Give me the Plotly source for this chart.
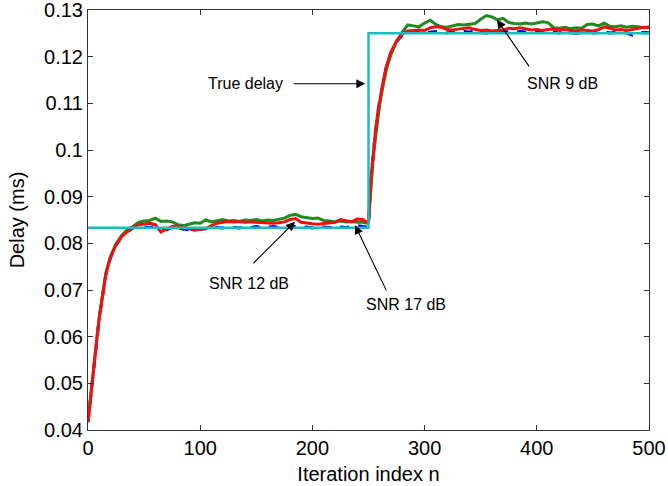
import plotly.graph_objects as go

# Iteration index (shared by all series)
n = [0, 2, 4, 6, 8, 10, 13, 16, 20, 25, 30, 35,
     40, 45, 50, 55, 60, 65, 70, 75, 80, 85,
     90, 95, 100, 105, 110, 115, 120, 125, 130, 135,
     140, 145, 150, 155, 160, 165, 170, 175, 180, 185,
     190, 195, 200, 205, 210, 215, 220, 225, 230, 235,
     240, 245, 248,
     250, 252, 254, 256, 258, 260, 263, 266, 270, 275, 280, 285,
     290, 295, 300, 305, 310, 315, 320, 325, 330, 335,
     340, 345, 350, 355, 360, 365, 370, 375, 380, 385,
     390, 395, 400, 405, 410, 415, 420, 425, 430, 435,
     440, 445, 450, 455, 460, 465, 470, 475, 480, 485,
     490, 495, 500]

snr17_blue = [0.0417, 0.0464, 0.0509, 0.0552, 0.0597, 0.0639, 0.0689, 0.0734, 0.0769, 0.0796, 0.0814, 0.0825,
              0.0833, 0.0836, 0.0835, 0.0834, 0.0836, 0.0831, 0.0829, 0.0833, 0.0832, 0.0830,
              0.0829, 0.0831, 0.0830, 0.0832, 0.0833, 0.0834, 0.0833, 0.0835, 0.0834, 0.0833,
              0.0835, 0.0834, 0.0836, 0.0834, 0.0835, 0.0836, 0.0834, 0.0835, 0.0837, 0.0836,
              0.0834, 0.0835, 0.0833, 0.0834, 0.0835, 0.0834, 0.0833, 0.0835, 0.0834, 0.0836,
              0.0838, 0.0836, 0.0835,
              0.0836, 0.0930, 0.0987, 0.1034, 0.1074, 0.1107, 0.1145, 0.1179, 0.1209, 0.1232, 0.1246, 0.1252,
              0.1252, 0.1253, 0.1251, 0.1252, 0.1254, 0.1252, 0.1251, 0.1253, 0.1252, 0.1254,
              0.1253, 0.1255, 0.1252, 0.1251, 0.1253, 0.1252, 0.1254, 0.1253, 0.1252, 0.1254,
              0.1253, 0.1252, 0.1255, 0.1256, 0.1254, 0.1252, 0.1251, 0.1253, 0.1252, 0.1250,
              0.1252, 0.1253, 0.1251, 0.1252, 0.1253, 0.1251, 0.1252, 0.1253, 0.1251, 0.1246,
              0.1250, 0.1252, 0.1251]

snr9_green = [0.0417, 0.0465, 0.0511, 0.0555, 0.0599, 0.0641, 0.0692, 0.0737, 0.0772, 0.0799, 0.0817, 0.0829,
              0.0836, 0.0845, 0.0848, 0.0849, 0.0854, 0.0847, 0.0848, 0.0846, 0.0840, 0.0838,
              0.0841, 0.0844, 0.0843, 0.0850, 0.0846, 0.0848, 0.0851, 0.0848, 0.0849, 0.0847,
              0.0850, 0.0849, 0.0851, 0.0848, 0.0850, 0.0849, 0.0851, 0.0854, 0.0860, 0.0862,
              0.0857, 0.0855, 0.0853, 0.0854, 0.0849, 0.0848, 0.0846, 0.0848, 0.0846, 0.0847,
              0.0845, 0.0845, 0.0843,
              0.0845, 0.0920, 0.0975, 0.1022, 0.1064, 0.1098, 0.1138, 0.1173, 0.1205, 0.1232, 0.1252, 0.1268,
              0.1266, 0.1264, 0.1272, 0.1278, 0.1269, 0.1264, 0.1263, 0.1266, 0.1269, 0.1268,
              0.1270, 0.1271, 0.1280, 0.1288, 0.1285, 0.1279, 0.1282, 0.1273, 0.1271, 0.1270,
              0.1272, 0.1270, 0.1272, 0.1275, 0.1273, 0.1262, 0.1261, 0.1263, 0.1260, 0.1262,
              0.1261, 0.1269, 0.1270, 0.1266, 0.1272, 0.1265, 0.1264, 0.1266, 0.1263, 0.1265,
              0.1264, 0.1262, 0.1264]

snr12_red = [0.0417, 0.0465, 0.0510, 0.0553, 0.0598, 0.0640, 0.0690, 0.0735, 0.0770, 0.0797, 0.0815, 0.0826,
             0.0835, 0.0840, 0.0842, 0.0843, 0.0840, 0.0824, 0.0831, 0.0836, 0.0837, 0.0835,
             0.0831, 0.0828, 0.0830, 0.0831, 0.0838, 0.0843, 0.0845, 0.0847, 0.0846, 0.0847,
             0.0845, 0.0846, 0.0845, 0.0844, 0.0843, 0.0843, 0.0844, 0.0846, 0.0851, 0.0853,
             0.0845, 0.0843, 0.0842, 0.0841, 0.0842, 0.0843, 0.0845, 0.0851, 0.0848, 0.0846,
             0.0852, 0.0851, 0.0846,
             0.0846, 0.0935, 0.0990, 0.1036, 0.1076, 0.1108, 0.1146, 0.1180, 0.1210, 0.1234, 0.1248, 0.1255,
             0.1256, 0.1257, 0.1256, 0.1262, 0.1264, 0.1263, 0.1258, 0.1257, 0.1259, 0.1261,
             0.1262, 0.1258, 0.1256, 0.1257, 0.1255, 0.1256, 0.1257, 0.1261, 0.1260, 0.1262,
             0.1260, 0.1257, 0.1258, 0.1256, 0.1258, 0.1259, 0.1257, 0.1258, 0.1256, 0.1255,
             0.1257, 0.1256, 0.1255, 0.1258, 0.1264, 0.1261, 0.1257, 0.1258, 0.1256, 0.1258,
             0.1260, 0.1263, 0.1262]

true_n = [0, 250, 250, 500]
true_delay = [0.08333, 0.08333, 0.125, 0.125]

y_ticks = [0.04, 0.05, 0.06, 0.07, 0.08, 0.09, 0.1, 0.11, 0.12, 0.13]
y_ticktext = ["0.04", "0.05", "0.06", "0.07", "0.08", "0.09", "0.1", "0.11", "0.12", "0.13"]
x_ticks = [0, 100, 200, 300, 400, 500]

FONT = "Liberation Sans, Arial, sans-serif"

fig = go.Figure()
fig.add_trace(go.Scatter(x=n, y=snr17_blue, mode="lines", name="SNR 17 dB",
                         line=dict(color="#0000ff", width=3, dash="dash")))
fig.add_trace(go.Scatter(x=n, y=snr9_green, mode="lines", name="SNR 9 dB",
                         line=dict(color="#1f8a1f", width=3)))
fig.add_trace(go.Scatter(x=n, y=snr12_red, mode="lines", name="SNR 12 dB",
                         line=dict(color="#f01010", width=3)))
fig.add_trace(go.Scatter(x=true_n, y=true_delay, mode="lines", name="True delay",
                         line=dict(color="#1cbcbc", width=2.5)))

# arrows: (tip_x, tip_y, tail_x, tail_y)
arrows = [
    (247, 0.1142, 182, 0.1142),
    (364.5, 0.1279, 394, 0.1176),
    (184.5, 0.0846, 146, 0.0754),
    (238, 0.0839, 266.5, 0.0696),
]
for tx, ty, ax_, ay_ in arrows:
    fig.add_annotation(x=tx, y=ty, ax=ax_, ay=ay_, xref="x", yref="y", axref="x", ayref="y",
                       text="", showarrow=True, arrowhead=2, arrowsize=1.6, arrowwidth=1.1,
                       arrowcolor="black")

labels = [
    ("True delay", 140, 0.1143),
    ("SNR 9 dB", 423, 0.1143),
    ("SNR 12 dB", 143.5, 0.0715),
    ("SNR 17 dB", 283.5, 0.0668),
]
for txt, lx, ly in labels:
    fig.add_annotation(x=lx, y=ly, xref="x", yref="y", text=txt, showarrow=False,
                       font=dict(family=FONT, size=16, color="black"))

fig.update_layout(
    width=668, height=486,
    margin=dict(l=88, r=19, t=10, b=56, autoexpand=False),
    paper_bgcolor="white", plot_bgcolor="white",
    showlegend=False,
    font=dict(family=FONT, color="black"),
)
fig.update_xaxes(range=[0, 500], tickvals=x_ticks, ticks="inside", ticklen=5, tickcolor="#333",
                 showline=True, linecolor="#333", linewidth=1, mirror="ticks",
                 showgrid=False, zeroline=False, tickfont=dict(size=20), automargin=False,
                 ticklabeloverflow="allow",
                 title=dict(text="Iteration index n", font=dict(size=20), standoff=8))
fig.update_yaxes(range=[0.04, 0.13], tickvals=y_ticks, ticktext=y_ticktext, ticks="inside",
                 ticklen=5, tickcolor="#333",
                 showline=True, linecolor="#333", linewidth=1, mirror="ticks",
                 showgrid=False, zeroline=False, tickfont=dict(size=20), automargin=False,
                 ticklabeloverflow="allow",
                 title=dict(text="Delay (ms)", font=dict(size=20), standoff=14))

fig.write_html("out.html")
